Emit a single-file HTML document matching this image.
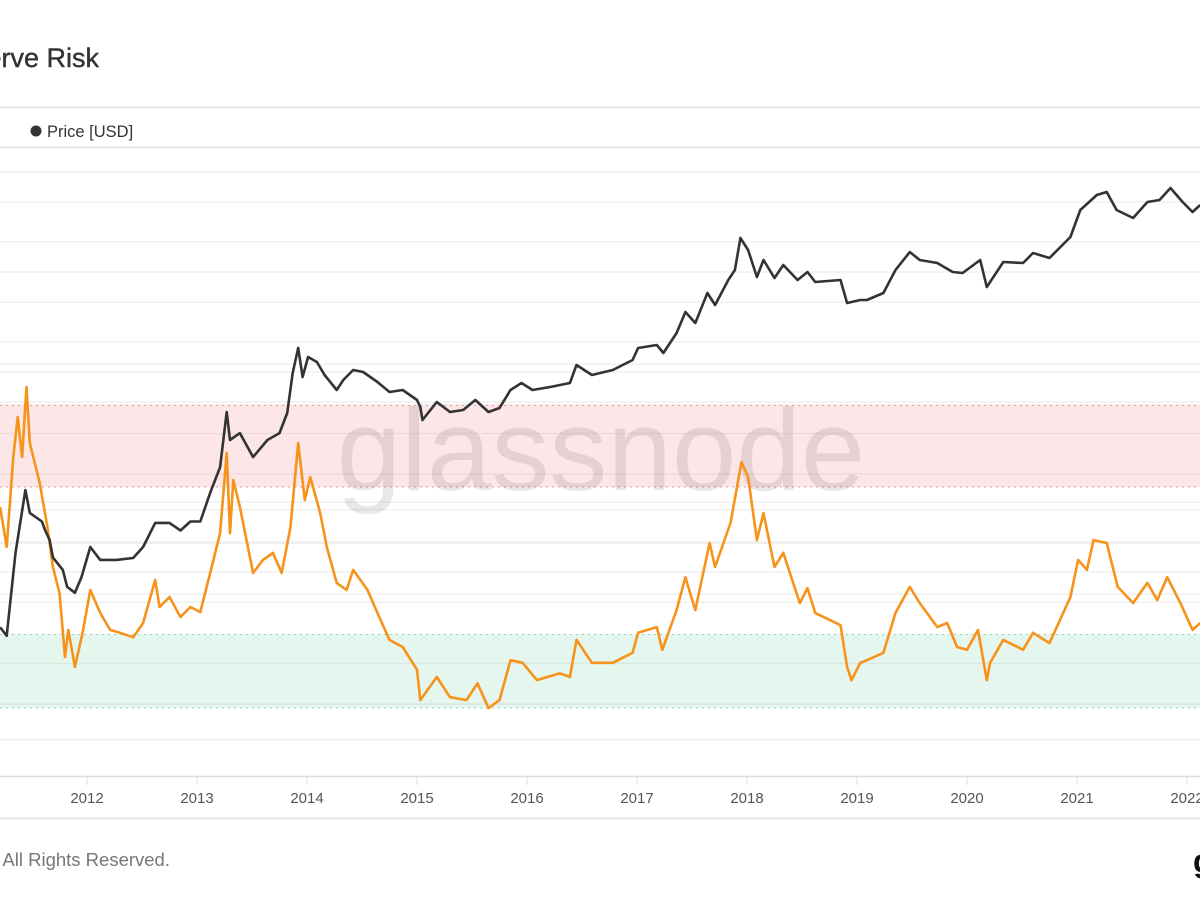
<!DOCTYPE html>
<html><head><meta charset="utf-8"><style>
html,body{margin:0;padding:0;background:#fff;}
body{width:1200px;height:900px;overflow:hidden;position:relative;font-family:"Liberation Sans",sans-serif;}
</style></head><body>
<svg id="chart" width="1200" height="900" viewBox="0 0 1200 900" xmlns="http://www.w3.org/2000/svg" style="position:absolute;left:0;top:0">
<text x="99" y="67" text-anchor="end" font-family="Liberation Sans, sans-serif" font-size="27" fill="#333" stroke="#333" stroke-width="0.4">Bitcoin: Reserve Risk</text>
<line x1="0" y1="107.5" x2="1200" y2="107.5" stroke="#e6e6e6" stroke-width="2"/>
<line x1="0" y1="147.5" x2="1200" y2="147.5" stroke="#e6e6e6" stroke-width="2"/>
<g>
<circle cx="36" cy="131" r="5.5" fill="#333"/>
<text x="47" y="137" font-size="16.5" fill="#333">Price [USD]</text>
</g>
<g id="grid"></g>
<rect x="0" y="405" width="1200" height="82" fill="#fce6e7"/>
<line x1="0" y1="405.5" x2="1200" y2="405.5" stroke="#ef9a9a" stroke-dasharray="2,4"/>
<line x1="0" y1="487" x2="1200" y2="487" stroke="#ef9a9a" stroke-dasharray="2,4"/>
<rect x="0" y="634" width="1200" height="74" fill="#e5f6ee"/>
<line x1="0" y1="634.5" x2="1200" y2="634.5" stroke="#8fd6bd" stroke-dasharray="2,4"/>
<line x1="0" y1="708" x2="1200" y2="708" stroke="#8fd6bd" stroke-dasharray="2,4"/>
<g id="grid2"></g>
<text x="601" y="490" text-anchor="middle" font-size="116" fill="#000" fill-opacity="0.09" font-family="Liberation Sans, sans-serif">glassnode</text>
<g id="series"></g>
<line x1="0" y1="776.5" x2="1200" y2="776.5" stroke="#dcdcdc" stroke-width="1.5"/>
<g id="xaxis"></g>
<line x1="0" y1="818.5" x2="1200" y2="818.5" stroke="#e6e6e6" stroke-width="2"/>
<text x="170" y="866" text-anchor="end" font-size="18.5" fill="#777">© 2022 Glassnode. All Rights Reserved.</text>
<text x="1193" y="872" font-size="32" font-weight="bold" fill="#111">g</text>
</svg>
<script>
const years = [2012,2013,2014,2015,2016,2017,2018,2019,2020,2021,2022];
const priceDates = [2011.21,2011.27,2011.35,2011.44,2011.48,2011.59,2011.62,2011.66,2011.69,2011.78,2011.82,2011.89,2011.95,2012.03,2012.12,2012.27,2012.42,2012.51,2012.62,2012.75,2012.85,2012.94,2013.03,2013.12,2013.21,2013.27,2013.30,2013.39,2013.51,2013.64,2013.75,2013.82,2013.87,2013.92,2013.96,2014.01,2014.09,2014.16,2014.27,2014.33,2014.42,2014.51,2014.64,2014.75,2014.87,2015.00,2015.03,2015.05,2015.18,2015.30,2015.42,2015.53,2015.65,2015.75,2015.85,2015.95,2016.05,2016.21,2016.39,2016.45,2016.59,2016.78,2016.96,2017.01,2017.18,2017.24,2017.36,2017.44,2017.53,2017.64,2017.71,2017.83,2017.89,2017.94,2018.01,2018.09,2018.15,2018.25,2018.33,2018.46,2018.55,2018.62,2018.85,2018.91,2019.03,2019.09,2019.24,2019.35,2019.48,2019.57,2019.73,2019.87,2019.96,2020.12,2020.18,2020.33,2020.51,2020.60,2020.75,2020.94,2021.03,2021.18,2021.27,2021.36,2021.51,2021.64,2021.75,2021.85,2021.96,2022.05,2022.12];
const priceValues = [2.8,2.3,15.5,66,39,32,26,21,14,10.5,7.1,6.2,8.9,17.8,13.2,13.2,13.8,17.8,31,31,26,32,32,62,112,398,209,245,141,209,245,389,977,1740,891,1413,1259,933,661,832,1047,1000,794,631,661,525,447,331,501,398,417,525,398,437,661,776,661,708,776,1175,933,1047,1318,1738,1862,1549,2455,3981,3090,6166,4677,8318,10471,21878,16596,8913,13183,8710,11749,8318,10000,7943,8318,4898,5248,5248,6166,10471,15849,13183,12303,10000,9772,13183,7079,12589,12303,15488,13804,22387,41687,58884,63096,41687,34674,50119,52481,69183,50119,39811,46774];
const riskDates = [2011.21,2011.27,2011.33,2011.37,2011.41,2011.45,2011.48,2011.57,2011.64,2011.69,2011.75,2011.80,2011.83,2011.89,2011.96,2012.03,2012.12,2012.21,2012.30,2012.42,2012.51,2012.62,2012.66,2012.75,2012.85,2012.94,2013.03,2013.12,2013.21,2013.27,2013.30,2013.33,2013.39,2013.51,2013.60,2013.69,2013.77,2013.85,2013.92,2013.98,2014.03,2014.12,2014.18,2014.27,2014.36,2014.42,2014.55,2014.64,2014.75,2014.87,2015.00,2015.03,2015.18,2015.30,2015.45,2015.55,2015.65,2015.75,2015.85,2015.96,2016.09,2016.30,2016.39,2016.45,2016.59,2016.78,2016.96,2017.01,2017.18,2017.23,2017.36,2017.44,2017.53,2017.66,2017.71,2017.85,2017.95,2018.01,2018.09,2018.15,2018.25,2018.33,2018.48,2018.55,2018.62,2018.85,2018.91,2018.95,2019.03,2019.09,2019.24,2019.35,2019.48,2019.57,2019.73,2019.82,2019.91,2020.00,2020.10,2020.18,2020.21,2020.33,2020.51,2020.60,2020.75,2020.94,2021.01,2021.09,2021.15,2021.27,2021.37,2021.51,2021.64,2021.73,2021.82,2021.94,2022.05,2022.12];
const riskValues = [0.00719,0.00482,0.01186,0.0177,0.01186,0.0239,0.01365,0.00914,0.00589,0.00394,0.00304,0.0016,0.0021,0.00145,0.00204,0.00313,0.00249,0.0021,0.00204,0.00195,0.00225,0.00346,0.00264,0.00292,0.00239,0.00264,0.00251,0.00371,0.00553,0.01234,0.00553,0.00942,0.00719,0.00371,0.00423,0.00454,0.00371,0.00589,0.01365,0.0077,0.0097,0.00676,0.00482,0.00336,0.00313,0.00383,0.00313,0.00249,0.0019,0.00177,0.00141,0.00104,0.00131,0.00107,0.00104,0.00123,0.00096,0.00104,0.00155,0.00151,0.00127,0.00136,0.00131,0.0019,0.00151,0.00151,0.00167,0.00204,0.00216,0.00172,0.00256,0.00356,0.00256,0.00501,0.00394,0.00612,0.01127,0.0097,0.00516,0.00676,0.00394,0.00454,0.00275,0.00319,0.00249,0.0022,0.00145,0.00127,0.00151,0.00155,0.00167,0.00249,0.00323,0.00275,0.00216,0.00225,0.00177,0.00172,0.0021,0.00127,0.00151,0.0019,0.00172,0.00204,0.00184,0.00292,0.00423,0.00383,0.00516,0.00501,0.00323,0.00275,0.00336,0.00283,0.00356,0.00275,0.0021,0.00225];
const priceGrid = [1,2,5,10,20,50,100,200,500,1000,2000,5000,10000,20000,50000,100000];
const riskGrid = [0.0005,0.0007,0.001,0.0015,0.002,0.003,0.005,0.007,0.01,0.015,0.02,0.03];

const NS='http://www.w3.org/2000/svg';
function xOf(t){return 87+(t-2012)*110;}
function yPrice(p){return 172+(5-Math.log10(p))*100;}
function yRisk(r){return 405+(-1.7-Math.log10(r))*230;}
function mk(tag,attrs,parent){const e=document.createElementNS(NS,tag);for(const k in attrs)e.setAttribute(k,attrs[k]);parent.appendChild(e);return e;}

const grid=document.getElementById('grid');
priceGrid.forEach(v=>{const y=yPrice(v);if(y<150||y>770)return;
  const l=mk('line',{x1:0,x2:1200,y1:y,y2:y,stroke:'#f0f0f0','stroke-width':1.5},grid);
  
  });
riskGrid.forEach(v=>{const y=yRisk(v);if(y<150||y>770)return;
  const l=mk('line',{x1:0,x2:1200,y1:y,y2:y,stroke:'#f0f0f0','stroke-width':1.5},grid);
  
  });
const grid2=document.getElementById('grid2');
riskGrid.forEach(v=>{const y=yRisk(v);if((y>406&&y<486)||(y>635&&y<707)){
  const l=mk('line',{x1:0,x2:1200,y1:y,y2:y,stroke:'#000','stroke-opacity':0.05,'stroke-width':1.5},grid2);
  
  }});

const series=document.getElementById('series');
function path(dates,vals,yf){return dates.map((d,i)=>(i?'L':'M')+xOf(d).toFixed(1)+','+yf(vals[i]).toFixed(1)).join('');}
const rp=mk('path',{d:path(riskDates,riskValues,yRisk),fill:'none',stroke:'#f7931a','stroke-width':2.6,'stroke-linejoin':'round'},series);


const pp=mk('path',{d:path(priceDates,priceValues,yPrice),fill:'none',stroke:'#333','stroke-width':2.6,'stroke-linejoin':'round'},series);



const xa=document.getElementById('xaxis');
years.forEach(yr=>{const x=xOf(yr);
  const t=mk('line',{x1:x,x2:x,y1:776,y2:785,stroke:'#dcdcdc'},xa);
  
  
  const lb=mk('text',{x:x,y:803,'text-anchor':'middle','font-size':15,fill:'#555','font-family':'Liberation Sans, sans-serif'},xa);
  lb.textContent=yr;
  
  });
</script>
</body></html>
